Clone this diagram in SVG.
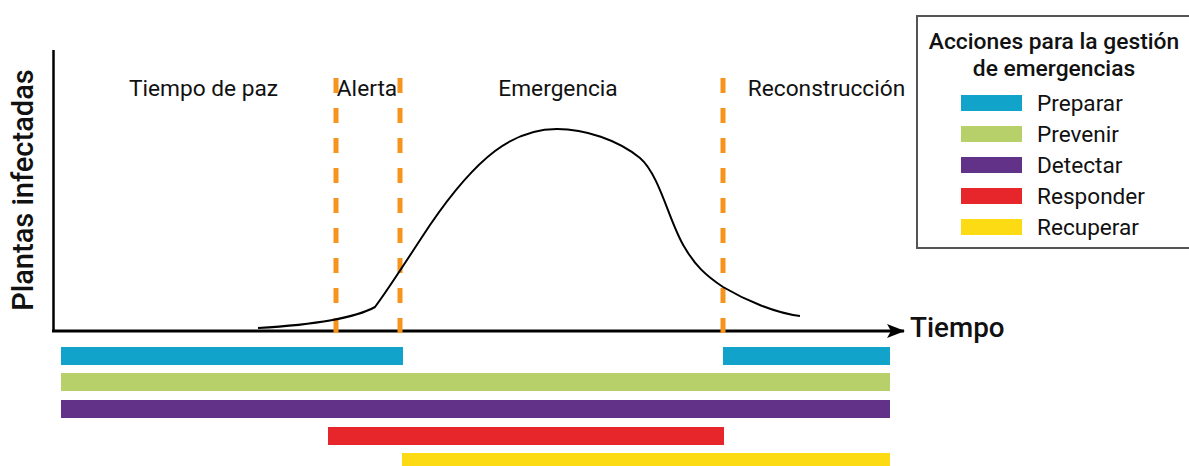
<svg xmlns="http://www.w3.org/2000/svg" width="1189" height="466" viewBox="0 0 1189 466">
<style>
text{font-family:Roboto,"Liberation Sans",sans-serif;fill:#111}
.phase{font-size:22.7px;text-anchor:middle}
.leg{font-size:22.6px}
.dash{stroke:#F7941D;stroke-width:5;stroke-dasharray:15 15;fill:none}
.ax{stroke:#000;fill:none}
</style>
<defs>
<marker id="arr" markerWidth="18" markerHeight="14" refX="17" refY="7" orient="auto" markerUnits="userSpaceOnUse">
<path d="M0,0 L18,7 L0,14 L4,7 Z" fill="#000"/>
</marker>
</defs>
<g id="axes">
<line class="ax" x1="53.5" y1="50" x2="53.5" y2="332" stroke-width="2.5"/>
<line class="ax" x1="52" y1="331" x2="904" y2="331" stroke-width="3" marker-end="url(#arr)"/>
<text x="33" y="190" font-size="29" font-weight="500" text-anchor="middle" transform="rotate(-90 33 190)">Plantas infectadas</text>
<text x="910" y="337" font-size="27.8" font-weight="500">Tiempo</text>
</g>
<g id="connectors">
<line class="dash" x1="336" y1="78" x2="336" y2="333"/>
<line class="dash" x1="400" y1="78" x2="400" y2="333"/>
<line class="dash" x1="723" y1="78" x2="723" y2="333"/>
<path d="M258,328 C310,325 355,318 375,307 C390,287 410,255 430,225 C445,203 470,170 495,151 C515,136 535,129 557,129 C585,129 618,140 640,158 C660,175 670,225 685,248 C695,265 705,275 723,287 C745,300 775,313 800,316" fill="none" stroke="#000" stroke-width="2"/>
</g>
<g id="phases">
<text class="phase" x="203.5" y="96">Tiempo de paz</text>
<text class="phase" x="367" y="96">Alerta</text>
<text class="phase" x="558" y="96">Emergencia</text>
<text class="phase" x="826.5" y="96">Reconstrucción</text>
</g>
<g id="bars">
<rect x="61" y="347" width="342" height="18" fill="#11A3C9"/>
<rect x="723" y="347" width="167" height="18" fill="#11A3C9"/>
<rect x="61" y="373" width="829" height="18" fill="#B7D06A"/>
<rect x="61" y="400" width="829" height="18" fill="#623289"/>
<rect x="328" y="427" width="396" height="18" fill="#E6262B"/>
<rect x="402" y="453" width="488" height="18" fill="#FCDB14"/>
</g>
<g id="legend">
<rect x="917" y="16" width="290" height="232" fill="#fff" stroke="#555" stroke-width="2"/>
<text x="1054" y="49" font-size="22.8" font-weight="500" text-anchor="middle">Acciones para la gestión</text>
<text x="1054" y="76" font-size="22.8" font-weight="500" text-anchor="middle">de emergencias</text>
<rect x="961" y="95" width="61" height="16" fill="#11A3C9"/>
<rect x="961" y="126" width="61" height="16" fill="#B7D06A"/>
<rect x="961" y="157" width="61" height="16" fill="#623289"/>
<rect x="961" y="188" width="61" height="16" fill="#E6262B"/>
<rect x="961" y="219" width="61" height="16" fill="#FCDB14"/>
<text class="leg" x="1037" y="111">Preparar</text>
<text class="leg" x="1037" y="142">Prevenir</text>
<text class="leg" x="1037" y="173">Detectar</text>
<text class="leg" x="1037" y="204">Responder</text>
<text class="leg" x="1037" y="235">Recuperar</text>
</g>
</svg>
